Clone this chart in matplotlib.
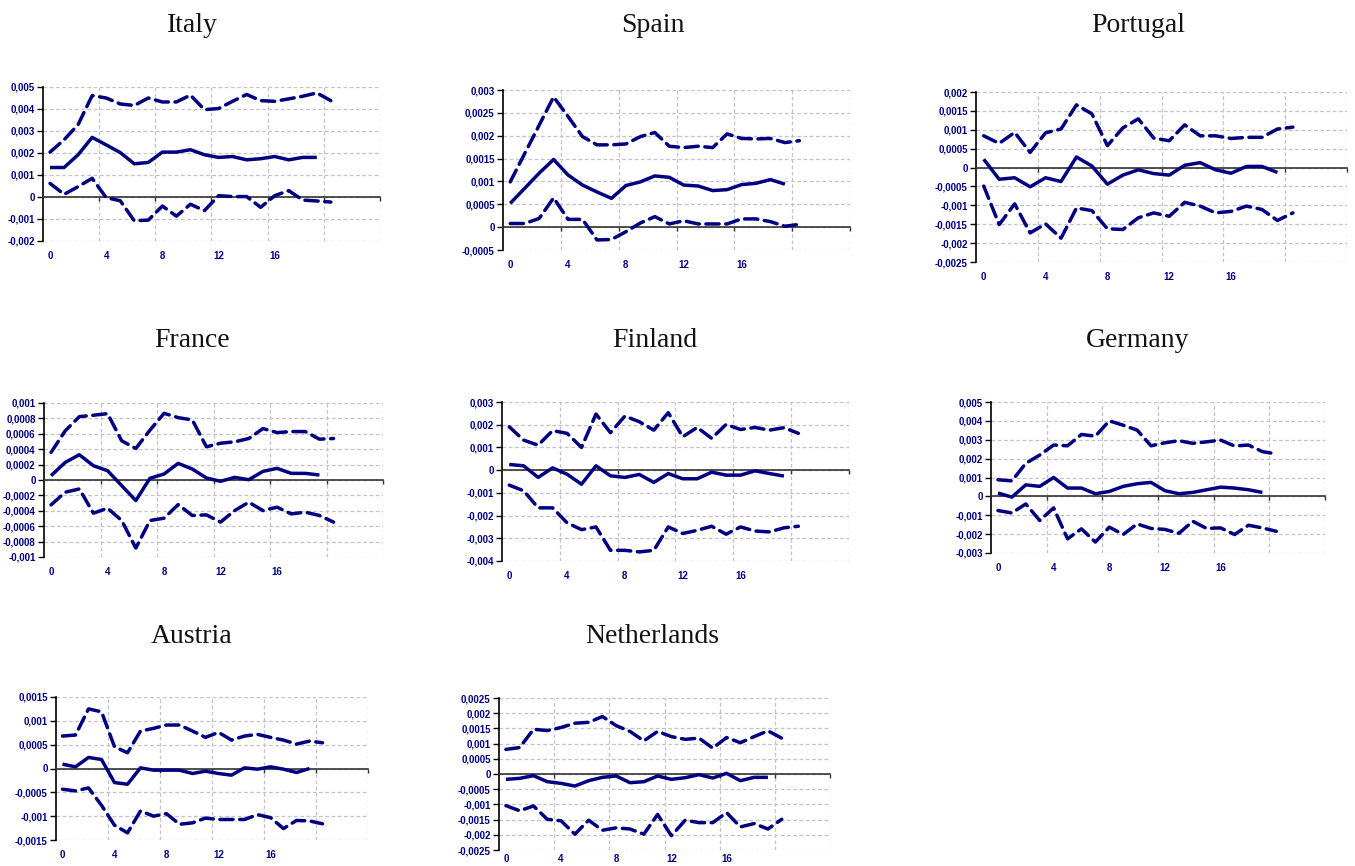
import numpy as np
import matplotlib
matplotlib.use("Agg")
import matplotlib.pyplot as plt

# impulse responses (x 1e-3) with upper / lower confidence bands
SCALE = 1e-3

italy_irf = [1.34, 1.34, 1.92, 2.71, 2.37, 2.02, 1.51, 1.57, 2.04, 2.04,
             2.15, 1.92, 1.80, 1.84, 1.69, 1.74, 1.84, 1.69, 1.80, 1.80]
italy_up = [2.04, 2.60, 3.29, 4.61, 4.50, 4.23, 4.16, 4.50, 4.32, 4.32,
            4.63, 3.97, 4.02, 4.35, 4.66, 4.38, 4.35, 4.46, 4.58, 4.73, 4.38]
italy_lo = [0.62, 0.12, 0.47, 0.85, -0.03, -0.17, -1.08, -1.05, -0.41, -0.87,
            -0.33, -0.62, 0.06, 0.02, 0.02, -0.47, 0.06, 0.29, -0.14, -0.18, -0.23]

spain_irf = [0.52, 0.85, 1.18, 1.48, 1.14, 0.92, 0.77, 0.63, 0.91, 0.99,
             1.12, 1.09, 0.92, 0.90, 0.80, 0.82, 0.93, 0.96, 1.04, 0.94]
spain_up = [0.99, 1.61, 2.23, 2.85, 2.42, 1.98, 1.80, 1.80, 1.82, 1.98,
            2.07, 1.77, 1.74, 1.77, 1.74, 2.04, 1.94, 1.93, 1.94, 1.85, 1.89]
spain_lo = [0.08, 0.08, 0.19, 0.64, 0.17, 0.17, -0.28, -0.27, -0.10, 0.09,
            0.23, 0.07, 0.14, 0.07, 0.07, 0.07, 0.18, 0.18, 0.12, 0.02, 0.06]

portugal_irf = [0.22, -0.31, -0.27, -0.51, -0.27, -0.37, 0.28, 0.04, -0.44, -0.20,
                -0.06, -0.16, -0.20, 0.06, 0.13, -0.06, -0.15, 0.03, 0.03, -0.13]
portugal_up = [0.84, 0.64, 0.93, 0.40, 0.92, 1.02, 1.66, 1.42, 0.58, 1.05,
               1.29, 0.78, 0.71, 1.13, 0.84, 0.84, 0.77, 0.80, 0.80, 1.02, 1.07]
portugal_lo = [-0.49, -1.51, -0.96, -1.73, -1.49, -1.87, -1.07, -1.14, -1.62, -1.64,
               -1.33, -1.20, -1.29, -0.92, -1.02, -1.20, -1.16, -1.02, -1.11, -1.40, -1.20]

france_irf = [0.056, 0.228, 0.328, 0.185, 0.121, -0.073, -0.267, 0.022, 0.078, 0.216,
              0.142, 0.026, -0.017, 0.034, 0.004, 0.112, 0.151, 0.086, 0.086, 0.065]
france_up = [0.358, 0.638, 0.823, 0.841, 0.862, 0.509, 0.409, 0.647, 0.866, 0.810,
             0.780, 0.431, 0.478, 0.496, 0.539, 0.668, 0.616, 0.629, 0.629, 0.530, 0.539]
france_lo = [-0.323, -0.159, -0.116, -0.431, -0.366, -0.526, -0.884, -0.526, -0.496, -0.319,
             -0.461, -0.453, -0.547, -0.397, -0.289, -0.397, -0.353, -0.440, -0.418, -0.461, -0.547]

finland_irf = [0.25, 0.19, -0.32, 0.10, -0.18, -0.62, 0.19, -0.25, -0.32, -0.19,
               -0.54, -0.15, -0.38, -0.38, -0.09, -0.22, -0.22, -0.03, -0.15, -0.26]
finland_up = [1.91, 1.32, 1.10, 1.74, 1.62, 1.00, 2.47, 1.65, 2.38, 2.13,
              1.76, 2.53, 1.47, 1.88, 1.40, 2.01, 1.79, 1.88, 1.76, 1.87, 1.62]
finland_lo = [-0.66, -0.91, -1.66, -1.66, -2.32, -2.62, -2.50, -3.53, -3.53, -3.60,
              -3.53, -2.50, -2.79, -2.65, -2.47, -2.82, -2.50, -2.68, -2.72, -2.54, -2.47]

germany_irf = [0.18, -0.04, 0.61, 0.53, 1.00, 0.44, 0.44, 0.14, 0.26, 0.53,
               0.67, 0.74, 0.30, 0.14, 0.21, 0.35, 0.49, 0.44, 0.35, 0.21]
germany_up = [0.88, 0.82, 1.75, 2.19, 2.72, 2.68, 3.28, 3.19, 4.00, 3.77,
              3.51, 2.68, 2.84, 2.95, 2.81, 2.89, 2.98, 2.67, 2.72, 2.37, 2.25]
germany_lo = [-0.75, -0.88, -0.40, -1.28, -0.61, -2.25, -1.72, -2.42, -1.63, -2.02,
              -1.46, -1.70, -1.75, -1.96, -1.32, -1.70, -1.67, -2.02, -1.53, -1.67, -1.85]

austria_irf = [0.091, 0.035, 0.232, 0.189, -0.295, -0.330, 0.014, -0.035, -0.035, -0.035,
               -0.105, -0.056, -0.105, -0.140, 0.014, -0.014, 0.035, -0.014, -0.084, 0.0]
austria_up = [0.681, 0.702, 1.25, 1.19, 0.456, 0.330, 0.786, 0.842, 0.912, 0.912,
              0.786, 0.653, 0.758, 0.596, 0.681, 0.716, 0.653, 0.596, 0.512, 0.575, 0.540]
austria_lo = [-0.435, -0.470, -0.407, -0.772, -1.19, -1.35, -0.891, -1.00, -0.947, -1.17,
              -1.14, -1.04, -1.07, -1.07, -1.07, -0.968, -1.03, -1.26, -1.09, -1.10, -1.16]

netherlands_irf = [-0.176, -0.143, -0.055, -0.253, -0.308, -0.396, -0.220, -0.110, -0.066, -0.286,
                   -0.253, -0.066, -0.176, -0.121, -0.022, -0.132, 0.022, -0.220, -0.110, -0.110]
netherlands_up = [0.81, 0.87, 1.47, 1.43, 1.53, 1.67, 1.70, 1.89, 1.59, 1.40,
                  1.09, 1.40, 1.23, 1.14, 1.18, 0.85, 1.20, 1.03, 1.23, 1.42, 1.18]
netherlands_lo = [-1.04, -1.21, -1.05, -1.49, -1.54, -1.98, -1.52, -1.85, -1.77, -1.81,
                  -1.98, -1.33, -2.03, -1.52, -1.60, -1.60, -1.27, -1.74, -1.63, -1.81, -1.49]

countries = ["Italy", "Spain", "Portugal", "France", "Finland", "Germany",
             "Austria", "Netherlands"]
irfs = [italy_irf, spain_irf, portugal_irf, france_irf, finland_irf, germany_irf,
        austria_irf, netherlands_irf]
uppers = [italy_up, spain_up, portugal_up, france_up, finland_up, germany_up,
          austria_up, netherlands_up]
lowers = [italy_lo, spain_lo, portugal_lo, france_lo, finland_lo, germany_lo,
          austria_lo, netherlands_lo]

# y axis range and step for each panel
y_ranges = [(-0.002, 0.005, 0.001), (-0.0005, 0.003, 0.0005), (-0.0025, 0.002, 0.0005),
            (-0.001, 0.001, 0.0002), (-0.004, 0.003, 0.001), (-0.003, 0.005, 0.001),
            (-0.0015, 0.0015, 0.0005), (-0.0025, 0.0025, 0.0005)]

# panel boxes in pixels: left, right, top, bottom ; title centre x, title baseline y
W, H = 1355, 866
boxes = [(43, 380, 87, 241), (503, 850, 90, 250), (976, 1347, 92, 262),
         (44, 383, 403, 557), (502, 849, 402, 561), (991, 1325, 402, 553),
         (56, 368, 697, 840), (499, 830, 698, 850)]
title_pos = [(192, 32), (653, 32), (1138, 32), (192, 347), (655, 347), (1138, 347),
             (192, 643), (652, 643)]
label_pads = [7, 7, 7, 7, 7, 7, 7, 3]

NAVY = "#000080"
GRID = "#c4c4c4"
TICK_FONT = dict(family="Liberation Sans", size=7.0, weight="bold")

fig = plt.figure(figsize=(W / 100, H / 100), dpi=100)

for i, name in enumerate(countries):
    l, r, t, b = boxes[i]
    ax = fig.add_axes([l / W, 1 - b / H, (r - l) / W, (b - t) / H])

    mid = np.array(irfs[i]) * SCALE
    up = np.array(uppers[i]) * SCALE
    lo = np.array(lowers[i]) * SCALE

    ax.plot(np.arange(len(mid)), mid, color=NAVY, lw=2.5, solid_capstyle="butt",
            solid_joinstyle="round", zorder=4)
    for band in (up, lo):
        ax.plot(np.arange(len(band)), band, color=NAVY, lw=2.5,
                linestyle=(0, (3.8, 1.9)), dash_capstyle="round", zorder=4)

    ymin, ymax, step = y_ranges[i]
    yt = np.round(np.arange(ymin, ymax + step / 2, step), 5)
    ax.set_ylim(ymin, ymax)
    ax.set_yticks(yt)
    ax.set_yticklabels([("%g" % v).replace(".", ",") if v != 0 else "0" for v in yt],
                       fontdict=TICK_FONT, color=NAVY)
    ax.set_xlim(-0.5, 23.5)

    # category axis drawn through zero, ticks between category groups
    ax.spines["bottom"].set_position(("data", 0))
    ax.spines["bottom"].set_color("#333333")
    ax.spines["bottom"].set_linewidth(1.2)
    ax.spines["bottom"].set_zorder(3)
    ax.set_xticks(np.arange(3.5, 24, 4))
    ax.tick_params(axis="x", length=3, width=1, color="#333333",
                   labelbottom=False, direction="out")
    ax.spines["left"].set_color("black")
    ax.spines["left"].set_linewidth(1.2)
    ax.spines["top"].set_visible(False)
    ax.spines["right"].set_visible(False)
    ax.tick_params(axis="y", length=4, width=1, color="black", pad=2)

    ax.grid(True, color=GRID, lw=0.9, linestyle=(0, (3, 2)), zorder=0)
    ax.set_axisbelow(True)

    sec = ax.secondary_xaxis(0)
    sec.set_xticks([0, 4, 8, 12, 16])
    sec.set_xticklabels(["0", "4", "8", "12", "16"], fontdict=TICK_FONT, color=NAVY)
    sec.tick_params(length=0, pad=label_pads[i])
    sec.spines["bottom"].set_visible(False)

    tx, ty = title_pos[i]
    fig.text(tx / W, 1 - ty / H, name, ha="center", va="baseline",
             fontsize=20, family="Liberation Serif", color="#111111")

fig.savefig("out.png", dpi=100)
